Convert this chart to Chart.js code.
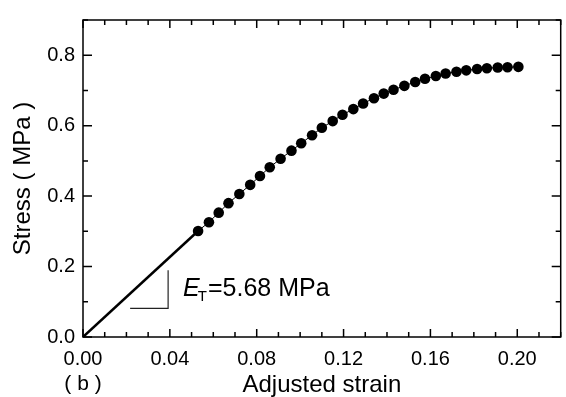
<!DOCTYPE html>
<html>
<head>
<meta charset="utf-8">
<script src="https://cdn.jsdelivr.net/npm/chart.js@4.4.0/dist/chart.umd.min.js"></script>
<style>
html, body { margin: 0; padding: 0; background: #fff; }
</style>
</head>
<body>
<canvas id="StressChart" width="566" height="397"></canvas>
<script>
// measured points: adjusted strain and stress (MPa)
var strain = [0.053, 0.058, 0.0625, 0.067, 0.072, 0.077, 0.0815, 0.086, 0.091, 0.096,
  0.1005, 0.1055, 0.110, 0.115, 0.1195, 0.1245, 0.129, 0.134, 0.1385, 0.143,
  0.148, 0.153, 0.1575, 0.1625, 0.167, 0.172, 0.1765, 0.1815, 0.186, 0.191, 0.1955, 0.2005];
var stress = [0.301, 0.326, 0.353, 0.380, 0.406, 0.432, 0.457, 0.482, 0.506, 0.529,
  0.550, 0.573, 0.594, 0.613, 0.631, 0.647, 0.663, 0.678, 0.691, 0.702,
  0.713, 0.724, 0.733, 0.741, 0.748, 0.753, 0.757, 0.761, 0.763, 0.765, 0.766, 0.767];

// tangent modulus of the initial straight part (MPa)
var ET = 5.68;

// little slope triangle under the straight part
var triX = [0.0217, 0.0392, 0.0392];
var triY = [0.0814, 0.0814, 0.1895];

// where the E_T text sits (strain, stress at baseline)
var labelAt = [0.0461, 0.115];

var FONT = "'Liberation Sans', Arial, Helvetica, sans-serif";
Chart.defaults.font.family = FONT;
Chart.defaults.color = '#000';

function toPoints(xs, ys) {
  return xs.map(function (x, i) { return { x: x, y: ys[i] }; });
}

// inward ticks on all four sides plus the box
var frameTicks = {
  id: 'frameTicks',
  afterDatasetsDraw: function (chart) {
    var ctx = chart.ctx, a = chart.chartArea;
    var xs = chart.scales.x, ys = chart.scales.y;
    ctx.save();
    ctx.strokeStyle = '#000';
    ctx.lineWidth = 1.5;
    ctx.strokeRect(a.left, a.top, a.right - a.left, a.bottom - a.top);
    ctx.beginPath();
    xs.ticks.forEach(function (t) {
      var px = xs.getPixelForValue(t.value);
      var len = Math.round(t.value * 100) % 4 === 0 ? 8 : 5;
      ctx.moveTo(px, a.bottom); ctx.lineTo(px, a.bottom - len);
      ctx.moveTo(px, a.top); ctx.lineTo(px, a.top + len);
    });
    ys.ticks.forEach(function (t) {
      var py = ys.getPixelForValue(t.value);
      var len = Math.round(t.value * 10) % 2 === 0 ? 9 : 5;
      ctx.moveTo(a.left, py); ctx.lineTo(a.left + len, py);
      ctx.moveTo(a.right, py); ctx.lineTo(a.right - len, py);
    });
    ctx.stroke();
    ctx.restore();
  },
  afterDraw: function (chart) {
    var ctx = chart.ctx;
    var xs = chart.scales.x, ys = chart.scales.y;
    ctx.save();
    ctx.fillStyle = '#000';
    ctx.textBaseline = 'alphabetic';
    // E_T = 5.68 MPa
    var x = xs.getPixelForValue(labelAt[0]);
    var y = ys.getPixelForValue(labelAt[1]);
    ctx.font = 'italic 25px ' + FONT;
    ctx.fillText('E', x, y);
    x += ctx.measureText('E').width - 2;
    ctx.font = '15px ' + FONT;
    ctx.fillText('T', x, y + 5);
    x += ctx.measureText('T').width + 1;
    ctx.font = '25px ' + FONT;
    ctx.fillText('=' + ET.toFixed(2) + ' MPa', x, y);
    // panel letter
    ctx.font = '21px ' + FONT;
    ctx.textAlign = 'center';
    ctx.textBaseline = 'middle';
    ctx.fillText('( b )', xs.getPixelForValue(0), chart.height - 13);
    ctx.restore();
  }
};

var ctx = document.getElementById('StressChart').getContext('2d');
var stressChart = new Chart(ctx, {
  type: 'scatter',
  data: {
    datasets: [
      {
        // measured curve
        data: toPoints(strain, stress),
        showLine: true,
        borderColor: '#000',
        borderWidth: 1,
        backgroundColor: '#000',
        pointRadius: 5.3,
        pointBorderWidth: 0
      },
      {
        // straight initial part, slope E_T
        data: [{ x: 0, y: 0 }, { x: strain[0], y: ET * strain[0] }],
        showLine: true,
        borderColor: '#000',
        borderWidth: 2.5,
        pointRadius: 0
      },
      {
        data: toPoints(triX, triY),
        showLine: true,
        borderColor: '#222',
        borderWidth: 1.2,
        pointRadius: 0
      }
    ]
  },
  options: {
    responsive: false,
    animation: false,
    layout: { padding: { top: 13, right: 4, left: 0, bottom: 0 } },
    plugins: {
      legend: { display: false },
      tooltip: { enabled: false }
    },
    scales: {
      x: {
        type: 'linear',
        min: 0,
        max: 0.22,
        grid: { display: false, drawTicks: false },
        border: { display: false },
        afterFit: function (scale) {
          scale.height = 60;
          scale.paddingLeft = 0;
          scale.paddingRight = 0;
        },
        ticks: {
          stepSize: 0.01,
          autoSkip: false,
          maxRotation: 0,
          padding: 10,
          font: { size: 20 },
          callback: function (v) {
            return Math.round(v * 100) % 4 === 0 ? v.toFixed(2) : '';
          }
        },
        title: {
          display: true,
          text: 'Adjusted strain',
          font: { size: 24 },
          padding: { top: 0, bottom: -3 }
        }
      },
      y: {
        type: 'linear',
        min: 0,
        max: 0.9,
        grid: { display: false, drawTicks: false },
        border: { display: false },
        afterFit: function (scale) { scale.width = 83; },
        ticks: {
          stepSize: 0.1,
          autoSkip: false,
          padding: 8,
          font: { size: 20 },
          callback: function (v) {
            return Math.round(v * 10) % 2 === 0 ? v.toFixed(1) : '';
          }
        },
        title: {
          display: true,
          text: 'Stress ( MPa )',
          font: { size: 24 },
          padding: { top: 9, bottom: 0 }
        }
      }
    }
  },
  plugins: [frameTicks]
});
</script>
</body>
</html>
